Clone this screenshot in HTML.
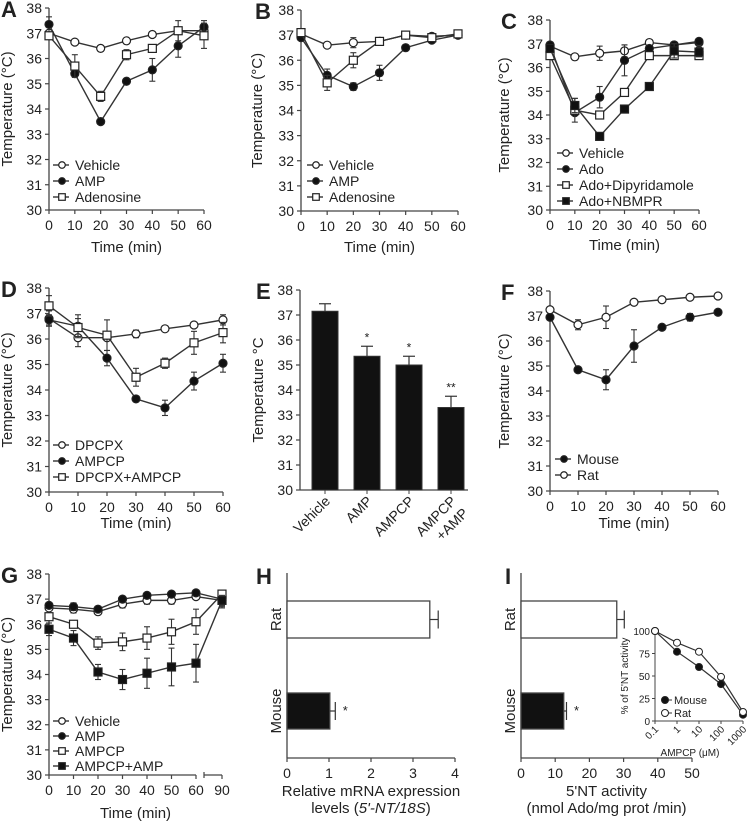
<!DOCTYPE html>
<html><head><meta charset="utf-8"><style>
html,body{margin:0;padding:0;background:#fff}
svg{display:block;font-family:"Liberation Sans",Arial,sans-serif}
</style></head><body>
<svg id="fig" xmlns="http://www.w3.org/2000/svg" width="748" height="822" viewBox="0 0 748 822"></svg>
<script>
// ---------- data ----------
const times = [0,10,20,30,40,50,60];
const timesG = [0,10,20,30,40,50,60,90];
const yTicks = [30,31,32,33,34,35,36,37,38];
const xTickLabels = ["0","10","20","30","40","50","60"];

const aVehicle = [37.0,36.65,36.4,36.7,36.95,37.1,37.1];
const aVehicleErr = [0.1,0.08,0.06,0.06,0.06,0.1,0.1];
const aAMP = [37.35,35.4,33.5,35.1,35.55,36.5,37.25];
const aAMPErr = [0.3,0.12,0.08,0.08,0.45,0.45,0.25];
const aAdo = [36.9,35.7,34.5,36.15,36.4,37.1,36.9];
const aAdoErr = [0.1,0.45,0.2,0.2,0.1,0.4,0.5];

const bVehicle = [37.05,36.6,36.7,36.75,37.0,36.95,37.0];
const bVehicleErr = [0.1,0.08,0.2,0.06,0.06,0.06,0.06];
const bAMP = [36.9,35.4,34.95,35.5,36.5,36.8,37.0];
const bAMPErr = [0.1,0.25,0.15,0.3,0.12,0.08,0.06];
const bAdo = [37.1,35.1,36.0,36.75,37.0,36.9,37.05];
const bAdoErr = [0.1,0.3,0.3,0.08,0.06,0.1,0.06];

const cVehicle = [36.9,36.45,36.6,36.7,37.05,36.95,37.05];
const cVehicleErr = [0.1,0.06,0.3,0.25,0.06,0.06,0.06];
const cAdo = [36.95,34.1,34.75,36.3,36.8,36.95,37.1];
const cAdoErr = [0.1,0.1,0.45,0.65,0.1,0.1,0.08];
const cDipy = [36.5,34.2,34.0,34.95,36.5,36.5,36.5];
const cDipyErr = [0.1,0.5,0.1,0.1,0.1,0.1,0.1];
const cNBMPR = [36.8,34.4,33.1,34.25,35.2,36.7,36.65];
const cNBMPRErr = [0.1,0.3,0.08,0.08,0.08,0.3,0.2];

const dDPCPX = [36.8,36.05,36.05,36.2,36.4,36.55,36.75];
const dDPCPXErr = [0.3,0.35,0.1,0.15,0.06,0.08,0.2];
const dAMPCP = [36.75,36.5,35.25,33.65,33.3,34.35,35.05];
const dAMPCPErr = [0.2,0.45,0.3,0.1,0.3,0.35,0.35];
const dCombo = [37.3,36.45,36.15,34.5,35.05,35.85,36.25];
const dComboErr = [0.4,0.35,0.6,0.35,0.2,0.45,0.4];

const eCats = ["Vehicle","AMP","AMPCP","AMPCP+AMP"];
const eVals = [37.15,35.35,35.0,33.3];
const eErrs = [0.3,0.4,0.35,0.45];
const eSig = ["","*","*","**"];

const fMouse = [36.95,34.85,34.45,35.8,36.55,36.95,37.15];
const fMouseErr = [0.08,0.12,0.4,0.65,0.12,0.15,0.1];
const fRat = [37.25,36.65,36.95,37.55,37.65,37.75,37.8];
const fRatErr = [0.08,0.2,0.45,0.06,0.06,0.06,0.06];

const gVehicle = [36.65,36.6,36.5,36.8,36.95,36.95,37.1,36.95];
const gVehicleErr = [0.1,0.15,0.1,0.15,0.15,0.15,0.1,0.3];
const gAMP = [36.75,36.7,36.6,37.0,37.15,37.2,37.25,37.0];
const gAMPErr = [0.1,0.15,0.1,0.1,0.1,0.1,0.1,0.3];
const gAMPCP = [36.3,36.0,35.25,35.3,35.45,35.7,36.1,37.2];
const gAMPCPErr = [0.15,0.1,0.25,0.35,0.45,0.5,0.5,0.1];
const gCombo = [35.8,35.45,34.1,33.8,34.05,34.3,34.45,36.95];
const gComboErr = [0.25,0.3,0.3,0.4,0.6,0.75,0.75,0.2];

const hCats = ["Rat","Mouse"];
const hVals = [3.4,1.02];
const hErrs = [0.2,0.13];
const hTicks = [0,1,2,3,4];

const iVals = [28,12.5];
const iErrs = [2.2,0.8];
const iTicks = [0,10,20,30,40,50];

const insetX = [0.1,1,10,100,1000];
const insetXLabels = ["0.1","1","10","100","1000"];
const insetMouse = [100,77,60,41,7];
const insetRat = [100,87,77,49,10];
const insetYTicks = [0,25,50,75,100];

// ---------- helpers ----------
const NS = "http://www.w3.org/2000/svg";
const fig = document.getElementById("fig");
function el(tag, attrs, parent) {
  const e = document.createElementNS(NS, tag);
  for (const k in attrs) e.setAttribute(k, attrs[k]);
  (parent || fig).appendChild(e);
  return e;
}
function txt(s, x, y, size, anchor, parent, extra) {
  const t = el("text", Object.assign({x: x, y: y, "font-size": size, "text-anchor": anchor || "middle", fill: "#222"}, extra || {}), parent);
  t.textContent = s;
  return t;
}
function marker(kind, x, y, g, sc) {
  sc = sc || 1;
  let m;
  if (kind === "oc" || kind === "fc") {
    m = el("circle", {cx: x, cy: y, r: 4.0 * sc, fill: kind === "fc" ? "#111" : "#fff", stroke: "#222", "stroke-width": 1.2}, g);
  } else {
    const h = 4.0 * sc;
    m = el("rect", {x: x - h, y: y - h, width: 2 * h, height: 2 * h, fill: kind === "fs" ? "#111" : "#fff", stroke: "#222", "stroke-width": 1.2}, g);
  }
  return m;
}
function errBar(x, y1, y2, g) {
  el("line", {x1: x, y1: y1, x2: x, y2: y2, stroke: "#333", "stroke-width": 1.1}, g);
  el("line", {x1: x - 3, y1: y1, x2: x + 3, y2: y1, stroke: "#333", "stroke-width": 1.1}, g);
  el("line", {x1: x - 3, y1: y2, x2: x + 3, y2: y2, stroke: "#333", "stroke-width": 1.1}, g);
}
function yAxisTemp(g, ax, yPx, top, title, titleX) {
  el("line", {x1: ax, y1: yPx(38), x2: ax, y2: yPx(30), stroke: "#444", "stroke-width": 1.3}, g);
  yTicks.forEach(v => {
    el("line", {x1: ax - 4, y1: yPx(v), x2: ax, y2: yPx(v), stroke: "#444", "stroke-width": 1.2}, g);
    txt(String(v), ax - 7, yPx(v) + 5, 14, "end", g);
  });
  const my = (yPx(38) + yPx(30)) / 2;
  txt(title, titleX, my, 15, "middle", g, {transform: "rotate(-90 " + titleX + " " + my + ")"});
}

function lineChart(cfg) {
  const g = el("g", {});
  
  
  const xPx = cfg.xPx;
  const yPx = v => cfg.y30 + (v - 30) * (cfg.y38 - cfg.y30) / 8;
  txt(cfg.letter, cfg.letterX, cfg.y38 + 9, 22, "start", g, {"font-weight": "bold"});
  yAxisTemp(g, cfg.x0, yPx, cfg.y38, "Temperature (°C)", cfg.titleX);
  if (cfg.breakAxis) {
    el("line", {x1: cfg.x0, y1: yPx(30), x2: xPx(60), y2: yPx(30), stroke: "#444", "stroke-width": 1.3}, g);
    el("line", {x1: xPx(60) + 8, y1: yPx(30), x2: xPx(90), y2: yPx(30), stroke: "#444", "stroke-width": 1.3}, g);
    el("line", {x1: xPx(60) + 8, y1: yPx(30) - 3, x2: xPx(60) + 8, y2: yPx(30) + 3, stroke: "#444", "stroke-width": 1.2}, g);
  } else {
    el("line", {x1: cfg.x0, y1: yPx(30), x2: xPx(60), y2: yPx(30), stroke: "#444", "stroke-width": 1.3}, g);
  }
  cfg.xs.forEach((t, i) => {
    el("line", {x1: xPx(t), y1: yPx(30), x2: xPx(t), y2: yPx(30) + 4, stroke: "#444", "stroke-width": 1.2}, g);
    txt(String(t), xPx(t), yPx(30) + 20, 14, "middle", g);
  });
  txt("Time (min)", (cfg.x0 + xPx(cfg.xs[cfg.xs.length - 1])) / 2, cfg.titleY, 15, "middle", g);
  cfg.series.forEach((s, si) => {
    const sg = el("g", {}, g);
    
    
    const pts = s.vals.map((v, i) => xPx(cfg.xs[i]) + "," + yPx(v)).join(" ");
    el("polyline", {points: pts, fill: "none", stroke: "#333", "stroke-width": 1.4}, sg);
    s.vals.forEach((v, i) => {
      const e = s.errs[i];
      if (e > 0.12) errBar(xPx(cfg.xs[i]), yPx(v + e), yPx(v - e), sg);
    });
    s.vals.forEach((v, i) => {
      const m = marker(s.kind, xPx(cfg.xs[i]), yPx(v), sg);
      
      
    });
    const ly = cfg.legY + si * cfg.legDy;
    const lg = el("g", {}, g);
    
    
    el("line", {x1: cfg.legX, y1: ly, x2: cfg.legX + 16, y2: ly, stroke: "#333", "stroke-width": 1.4}, lg);
    marker(s.kind, cfg.legX + 9, ly, lg, 0.82);
    txt(s.label, cfg.legX + 22, ly + 5, 14, "start", lg);
  });
}
function linX(x0, x60) { return t => x0 + t * (x60 - x0) / 60; }

lineChart({name: "panel-a", letter: "A", letterX: 1, x0: 49, xPx: linX(49, 204), y38: 8, y30: 210, titleX: 12, titleY: 252,
  xs: times, legX: 53, legY: 165, legDy: 16,
  series: [
    {name: "vehicle-series", label: "Vehicle", kind: "oc", vals: aVehicle, errs: aVehicleErr},
    {name: "amp-series", label: "AMP", kind: "fc", vals: aAMP, errs: aAMPErr},
    {name: "adenosine-series", label: "Adenosine", kind: "os", vals: aAdo, errs: aAdoErr}]});
lineChart({name: "panel-b", letter: "B", letterX: 255, x0: 301, xPx: linX(301, 458), y38: 10, y30: 211, titleX: 262, titleY: 252,
  xs: times, legX: 307, legY: 165, legDy: 16,
  series: [
    {name: "vehicle-series", label: "Vehicle", kind: "oc", vals: bVehicle, errs: bVehicleErr},
    {name: "amp-series", label: "AMP", kind: "fc", vals: bAMP, errs: bAMPErr},
    {name: "adenosine-series", label: "Adenosine", kind: "os", vals: bAdo, errs: bAdoErr}]});
lineChart({name: "panel-c", letter: "C", letterX: 501, x0: 550, xPx: linX(550, 699), y38: 20, y30: 210, titleX: 509, titleY: 250,
  xs: times, legX: 557, legY: 153, legDy: 16,
  series: [
    {name: "vehicle-series", label: "Vehicle", kind: "oc", vals: cVehicle, errs: cVehicleErr},
    {name: "ado-series", label: "Ado", kind: "fc", vals: cAdo, errs: cAdoErr},
    {name: "ado-dipyridamole-series", label: "Ado+Dipyridamole", kind: "os", vals: cDipy, errs: cDipyErr},
    {name: "ado-nbmpr-series", label: "Ado+NBMPR", kind: "fs", vals: cNBMPR, errs: cNBMPRErr}]});
lineChart({name: "panel-d", letter: "D", letterX: 1, x0: 49, xPx: linX(49, 223), y38: 288, y30: 492, titleX: 12, titleY: 528,
  xs: times, legX: 53, legY: 445, legDy: 16,
  series: [
    {name: "dpcpx-series", label: "DPCPX", kind: "oc", vals: dDPCPX, errs: dDPCPXErr},
    {name: "ampcp-series", label: "AMPCP", kind: "fc", vals: dAMPCP, errs: dAMPCPErr},
    {name: "dpcpx-ampcp-series", label: "DPCPX+AMPCP", kind: "os", vals: dCombo, errs: dComboErr}]});
lineChart({name: "panel-f", letter: "F", letterX: 501, x0: 550, xPx: linX(550, 718), y38: 291, y30: 491, titleX: 509, titleY: 528,
  xs: times, legX: 555, legY: 459, legDy: 16,
  series: [
    {name: "mouse-series", label: "Mouse", kind: "fc", vals: fMouse, errs: fMouseErr},
    {name: "rat-series", label: "Rat", kind: "oc", vals: fRat, errs: fRatErr}]});
lineChart({name: "panel-g", letter: "G", letterX: 1, x0: 49,
  xPx: t => t <= 60 ? 49 + t * (196 - 49) / 60 : 222, breakAxis: true,
  y38: 574, y30: 775, titleX: 12, titleY: 818,
  xs: timesG, legX: 53, legY: 721, legDy: 15,
  series: [
    {name: "vehicle-series", label: "Vehicle", kind: "oc", vals: gVehicle, errs: gVehicleErr},
    {name: "amp-series", label: "AMP", kind: "fc", vals: gAMP, errs: gAMPErr},
    {name: "ampcp-series", label: "AMPCP", kind: "os", vals: gAMPCP, errs: gAMPCPErr},
    {name: "ampcp-amp-series", label: "AMPCP+AMP", kind: "fs", vals: gCombo, errs: gComboErr}]});

(function () {
  const g = el("g", {});
  
  
  const y38 = 290, y30 = 490, ax = 300;
  const yPx = v => y30 + (v - 30) * (y38 - y30) / 8;
  txt("E", 256, y38 + 9, 22, "start", g, {"font-weight": "bold"});
  yAxisTemp(g, ax, yPx, y38, "Temperature °C", 263);
  el("line", {x1: ax, y1: y30, x2: 468, y2: y30, stroke: "#444", "stroke-width": 1.3}, g);
  const bw = 26, step = 42, first = 325;
  eVals.forEach((v, i) => {
    const cx = first + i * step;
    const b = el("rect", {x: cx - bw / 2, y: yPx(v), width: bw, height: y30 - yPx(v), fill: "#111", stroke: "#333"}, g);
    
    
    el("line", {x1: cx, y1: yPx(v), x2: cx, y2: yPx(v + eErrs[i]), stroke: "#333", "stroke-width": 1.2}, g);
    el("line", {x1: cx - 6, y1: yPx(v + eErrs[i]), x2: cx + 6, y2: yPx(v + eErrs[i]), stroke: "#333", "stroke-width": 1.2}, g);
    if (eSig[i]) txt(eSig[i], cx, yPx(v + eErrs[i]) - 5, 12, "middle", g);
    el("line", {x1: cx, y1: y30, x2: cx, y2: y30 + 4, stroke: "#444"}, g);
    const lx = cx + 6, ly = y30 + 12;
    if (i < 3) {
      txt(eCats[i], lx, ly, 14, "end", g, {transform: "rotate(-45 " + lx + " " + ly + ")"});
    } else {
      txt("AMPCP", lx, ly, 14, "end", g, {transform: "rotate(-45 " + lx + " " + ly + ")"});
      txt("+AMP", lx + 12, ly + 12, 14, "end", g, {transform: "rotate(-45 " + (lx + 12) + " " + (ly + 12) + ")"});
    }
  });
})();

function hBar(cfg) {
  const g = el("g", {});
  
  
  const xPx = v => cfg.ax + v * (cfg.xEnd - cfg.ax) / cfg.max;
  const base = 758;
  txt(cfg.letter, cfg.letterX, 584, 22, "start", g, {"font-weight": "bold"});
  el("line", {x1: cfg.ax, y1: 573, x2: cfg.ax, y2: base, stroke: "#444", "stroke-width": 1.3}, g);
  el("line", {x1: cfg.ax, y1: base, x2: cfg.xEnd, y2: base, stroke: "#444", "stroke-width": 1.3}, g);
  cfg.ticks.forEach(t => {
    el("line", {x1: xPx(t), y1: base, x2: xPx(t), y2: base + 4, stroke: "#444", "stroke-width": 1.2}, g);
    txt(String(t), xPx(t), base + 20, 14, "middle", g);
  });
  const bars = [[601, 638, "#fff"], [693, 729, "#111"]];
  cfg.vals.forEach((v, i) => {
    const [t, b, f] = bars[i];
    const r = el("rect", {x: cfg.ax, y: t, width: xPx(v) - cfg.ax, height: b - t, fill: f, stroke: "#444", "stroke-width": 1.3}, g);
    
    
    const my = (t + b) / 2, xe = xPx(v + cfg.errs[i]);
    el("line", {x1: xPx(v), y1: my, x2: xe, y2: my, stroke: "#333", "stroke-width": 1.2}, g);
    el("line", {x1: xe, y1: my - 9, x2: xe, y2: my + 9, stroke: "#333", "stroke-width": 1.2}, g);
    const cx = cfg.ax - 11;
    txt(hCats[i], cx, my, 15, "middle", g, {transform: "rotate(-90 " + cx + " " + my + ")", dy: 5});
  });
  txt("*", xPx(cfg.vals[1] + cfg.errs[1]) + 10, 715, 13, "middle", g);
  txt(cfg.t1, (cfg.ax + cfg.xEnd) / 2, 796, 15, "middle", g);
  const t2 = txt("", (cfg.ax + cfg.xEnd) / 2, 813, 15, "middle", g);
  cfg.t2.forEach(p => { const s = document.createElementNS(NS, "tspan"); s.textContent = p[0]; if (p[1]) s.setAttribute("font-style", "italic"); t2.appendChild(s); });
  return g;
}
hBar({name: "panel-h", letter: "H", letterX: 256, ax: 287, xEnd: 455, max: 4, ticks: hTicks, vals: hVals, errs: hErrs,
  t1: "Relative mRNA expression", t2: [["levels (", false], ["5'-NT/", true], ["18S", true], [")", false]]});
const gi = hBar({name: "panel-i", letter: "I", letterX: 505, ax: 521, xEnd: 692, max: 50, ticks: iTicks, vals: iVals, errs: iErrs,
  t1: "5'NT activity", t2: [["(nmol Ado/mg prot /min)", false]]});

(function () {
  const g = el("g", {}, gi);
  
  
  const x0 = 655, x1 = 743, y0 = 721, y100 = 631;
  const xPx = v => x0 + (Math.log10(v) + 1) * (x1 - x0) / 4;
  const yPx = v => y0 + v * (y100 - y0) / 100;
  el("line", {x1: x0, y1: y100 - 3, x2: x0, y2: y0, stroke: "#444"}, g);
  el("line", {x1: x0, y1: y0, x2: x1, y2: y0, stroke: "#444"}, g);
  insetYTicks.forEach(v => {
    el("line", {x1: x0 - 3, y1: yPx(v), x2: x0, y2: yPx(v), stroke: "#444"}, g);
    txt(String(v), x0 - 5, yPx(v) + 4, 10, "end", g);
  });
  insetX.forEach((v, i) => {
    el("line", {x1: xPx(v), y1: y0, x2: xPx(v), y2: y0 + 3, stroke: "#444"}, g);
    const lx = xPx(v) + 4, ly = y0 + 9;
    txt(insetXLabels[i], lx, ly, 10, "end", g, {transform: "rotate(-45 " + lx + " " + ly + ")"});
  });
  txt("AMPCP (μM)", 690, 756, 10, "middle", g);
  txt("% of 5'NT activity", 628, 676, 10, "middle", g, {transform: "rotate(-90 628 676)"});
  [[insetMouse, "fc", "inset-mouse-series"], [insetRat, "oc", "inset-rat-series"]].forEach(([vals, k, n]) => {
    const sg = el("g", {}, g);
    
    
    el("polyline", {points: vals.map((v, i) => xPx(insetX[i]) + "," + yPx(v)).join(" "), fill: "none", stroke: "#333", "stroke-width": 1.2}, sg);
    vals.forEach((v, i) => { el("circle", {cx: xPx(insetX[i]), cy: yPx(v), r: 3.5, fill: k === "fc" ? "#111" : "#fff", stroke: "#222"}, sg); });
  });
  [["Mouse", "fc", 700], ["Rat", "oc", 713]].forEach(([l, k, y]) => {
    const lg = el("g", {}, g);
    
    
    el("line", {x1: 661, y1: y, x2: 672, y2: y, stroke: "#333"}, lg);
    el("circle", {cx: 665, cy: y, r: 3.5, fill: k === "fc" ? "#111" : "#fff", stroke: "#222"}, lg);
    txt(l, 674, y + 4, 11, "start", lg);
  });
})();
</script>
</body></html>
